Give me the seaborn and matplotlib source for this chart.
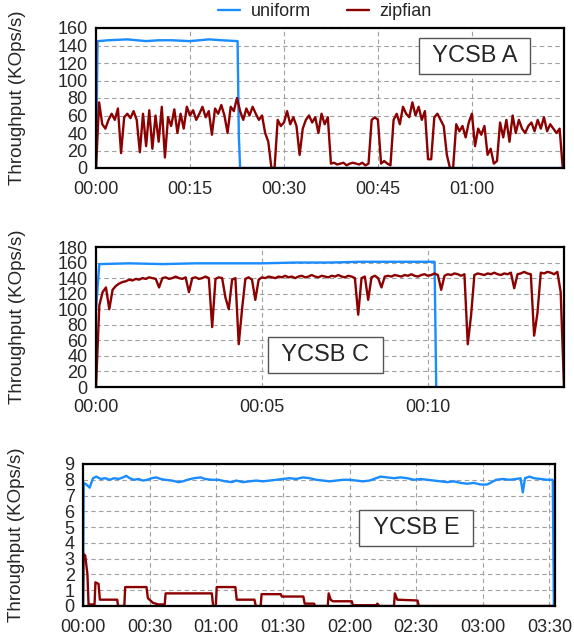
import matplotlib
matplotlib.use("Agg")
import matplotlib.pyplot as plt
import matplotlib.ticker as mticker
import numpy as np
import pandas as pd
import seaborn as sns

# ── Data (minutes, KOps/s) ────────────────────────────────────────────────────
SERIES = ["uniform", "zipfian"]
PALETTE = {"uniform": "#1a8cff", "zipfian": "#8b0000"}

# YCSB A
A_UNIF_T = [0, 0.25, 2, 5, 8, 10, 12, 15, 18, 20, 22.6, 22.8, 23.0, 74.7]
A_UNIF = [0, 145, 146, 147, 145, 146, 146, 145, 147, 146, 145, 37, 0, 0]
A_ZIPF_STEP = 0.5
A_ZIPF = [
    0, 75, 50, 45, 55, 62, 55, 68, 17, 58,
    62, 57, 65, 55, 18, 62, 25, 66, 22, 60,
    30, 70, 12, 58, 48, 67, 40, 62, 45, 70,
    60, 66, 55, 62, 70, 58, 65, 38, 68, 62,
    72, 60, 40, 70, 65, 80, 65, 55, 68, 60,
    70, 62, 55, 60, 40, 30, 0, 0, 55, 48,
    52, 65, 50, 58, 48, 15, 45, 55, 60, 52,
    58, 40, 62, 50, 58, 5, 6, 4, 5, 6,
    3, 5, 6, 5, 4, 6, 3, 5, 55, 58,
    55, 5, 8, 5, 3, 55, 62, 50, 70, 62,
    58, 75, 60, 70, 55, 65, 10, 10, 58, 62,
    55, 48, 15, 0, 0, 50, 42, 48, 35, 52,
    62, 25, 45, 38, 48, 15, 22, 5, 8, 52,
    35, 55, 30, 60, 40, 55, 45, 40, 48, 52,
    42, 55, 45, 58, 42, 50, 45, 40, 45, 0,
]

# YCSB C
C_UNIF_T = [0, 0.1, 1, 2, 3, 4, 5, 6, 7, 8, 9, 10, 10.2, 10.25]
C_UNIF = [100, 158, 159, 158, 159, 159, 159, 160, 160, 161, 161, 161, 161, 0]
C_ZIPF_STEP = 0.1
C_ZIPF = [
    0, 105, 122, 128, 100, 125, 130, 133, 135, 136,
    138, 137, 139, 138, 140, 139, 141, 140, 139, 128,
    140, 141, 139, 140, 142, 140, 139, 141, 122, 140,
    141, 139, 140, 142, 140, 77, 139, 141, 140, 115,
    100, 138, 140, 55, 100, 139, 141, 138, 112, 138,
    141, 140, 142, 141, 140, 142, 141, 143, 141, 142,
    140, 142, 143, 141, 142, 144, 142, 141, 143, 142,
    141, 143, 142, 144, 142, 141, 143, 142, 140, 93,
    140, 142, 112, 141, 143, 140, 128, 142, 143, 142,
    144, 143, 142, 144, 143, 145, 143, 142, 144, 145,
    143, 144, 146, 144, 125, 143, 145, 144, 146, 145,
    143, 145, 55, 92, 144, 146, 145, 144, 146, 145,
    147, 145, 144, 146, 145, 147, 127, 145, 146, 148,
    146, 145, 66, 95, 147, 146, 148, 147, 145, 148,
    122, 0,
]

# YCSB E
E_UNIF_T = [
    0, 0.3, 1.5, 3, 4.5, 6, 8, 10, 12, 14, 16, 18, 19.5, 21, 23, 25, 27, 29,
    31, 33, 35, 37, 40, 43, 45, 47, 50, 53, 55, 58, 61, 64, 67, 69, 72, 75,
    78, 81, 84, 87, 90, 93, 96, 99, 102, 105, 108, 111, 114, 117, 120, 123,
    126, 129, 132, 134, 137, 140, 143, 146, 149, 152, 155, 158, 161, 164,
    167, 170, 173, 176, 179, 182, 184, 186, 189, 192, 195, 197, 198, 199,
    201, 203, 206, 209, 211.5, 212,
]
E_UNIF = [
    0, 7.8, 7.7, 7.5, 8.1, 8.2, 8.05, 8.1, 8.0, 8.1, 8.05, 8.15, 8.25, 8.1,
    8.0, 8.05, 7.95, 8.0, 8.1, 8.15, 8.05, 8.0, 7.95, 7.85, 7.9, 8.0, 8.1,
    8.15, 8.05, 8.0, 8.0, 7.9, 7.85, 7.95, 7.85, 7.9, 7.95, 7.9, 7.95, 8.0,
    8.05, 8.1, 8.05, 8.15, 8.1, 8.0, 7.95, 7.9, 7.95, 8.0, 8.0, 7.95, 7.9,
    7.95, 8.1, 8.2, 8.15, 8.1, 8.15, 8.1, 8.0, 8.05, 8.0, 7.95, 7.9, 7.85,
    7.9, 7.8, 7.75, 7.8, 7.7, 7.7, 7.85, 8.0, 8.05, 8.0, 8.05, 8.1, 7.2,
    8.1, 8.2, 8.1, 8.05, 8.0, 8.0, 0,
]
E_ZIPF_T = [
    0, 0.2, 1, 2, 2.5, 5.2, 5.6, 7, 7.6, 15.4, 15.8, 18.6, 19, 28.6, 29.2,
    31.5, 34, 36.8, 37.2, 58, 58.6, 59.8, 60.2, 68.6, 69.2, 77.2, 77.8, 80,
    80.4, 89, 89.5, 99.2, 99.8, 104, 104.5, 110.2, 110.6, 111.5, 112.5, 121,
    121.5, 132, 132.5, 133.5, 140, 140.4, 141.5, 150.6, 151.2, 212,
]
E_ZIPF = [
    0, 3.3, 3.2, 2.0, 0.1, 0.1, 1.5, 1.4, 0.4, 0.4, 0.0, 0.0, 1.2, 1.2, 0.5,
    0.2, 0.1, 0.1, 0.8, 0.8, 0.0, 0.0, 1.2, 1.2, 0.4, 0.4, 0.0, 0.0,
    0.75, 0.75, 0.6, 0.6, 0.15, 0.15, 0.0, 0.0, 0.8, 0.4, 0.3, 0.3,
    0.05, 0.05, 0.15, 0.0, 0.0, 0.8, 0.4, 0.35, 0.0, 0.0,
]


def _frame(unif_t, unif, zipf_t, zipf):
    return pd.concat([
        pd.DataFrame({"minutes": unif_t, "kops": unif, "series": "uniform"}),
        pd.DataFrame({"minutes": zipf_t, "kops": zipf, "series": "zipfian"}),
    ], ignore_index=True)


panels = [
    dict(df=_frame(A_UNIF_T, A_UNIF, np.arange(len(A_ZIPF)) * A_ZIPF_STEP, A_ZIPF),
         rect=[96 / 574, 1 - 168 / 640, 468 / 574, 140 / 640],
         xlim=74.7, xstep=15, ylim=160, ystep=20,
         label="YCSB A", box=(0.808, 0.80), ylab_x=-0.15),
    dict(df=_frame(C_UNIF_T, C_UNIF, np.arange(len(C_ZIPF)) * C_ZIPF_STEP, C_ZIPF),
         rect=[96 / 574, 1 - 387 / 640, 468 / 574, 140 / 640],
         xlim=14.1, xstep=5, ylim=180, ystep=20,
         label="YCSB C", box=(0.49, 0.23), ylab_x=-0.15),
    dict(df=_frame(E_UNIF_T, E_UNIF, E_ZIPF_T, E_ZIPF),
         rect=[83 / 574, 1 - 606 / 640, 472 / 574, 142 / 640],
         xlim=212.5, xstep=30, ylim=9, ystep=1,
         label="YCSB E", box=(0.706, 0.55), ylab_x=-0.122),
]

# ── Style ────────────────────────────────────────────────────────────────────
sns.set_style("white")
plt.rcParams["font.family"] = ["Liberation Sans", "DejaVu Sans"]
plt.rcParams["font.size"] = 13


def hhmm(v, pos):
    m = int(round(v))
    return f"{m // 60:02d}:{m % 60:02d}"


fig = plt.figure(figsize=(5.74, 6.4), dpi=100)
handles, labels = None, None

for p in panels:
    ax = fig.add_axes(p["rect"])
    sns.lineplot(
        data=p["df"], x="minutes", y="kops", hue="series", hue_order=SERIES,
        palette=PALETTE, estimator=None, sort=False, lw=1.7, ax=ax,
    )
    if handles is None:
        handles, labels = ax.get_legend_handles_labels()
    ax.get_legend().remove()

    ax.set_xlim(0, p["xlim"])
    ax.set_ylim(0, p["ylim"])
    ax.xaxis.set_major_locator(mticker.MultipleLocator(p["xstep"]))
    ax.yaxis.set_major_locator(mticker.MultipleLocator(p["ystep"]))
    ax.xaxis.set_major_formatter(mticker.FuncFormatter(hhmm))
    ax.tick_params(axis="both", length=0, labelsize=13)
    ax.tick_params(axis="y", pad=6)
    ax.tick_params(axis="x", pad=9)
    ax.grid(True, ls=(0, (4, 3)), color="#a0a0a0", lw=0.8)
    for s in ax.spines.values():
        s.set_color("black")
        s.set_linewidth(1.6)

    ax.set_xlabel("")
    ax.set_ylabel("Throughput (KOps/s)", fontsize=13.5)
    ax.yaxis.set_label_coords(p["ylab_x"], 0.5)

    ax.text(p["box"][0], p["box"][1], f" {p['label']} ", transform=ax.transAxes,
            ha="center", va="center", fontsize=17,
            bbox=dict(boxstyle="square,pad=0.3", fc="white", ec="#555555", lw=1))

fig.legend(handles, labels, loc="center", bbox_to_anchor=(325 / 574, 1 - 12 / 640),
           ncol=2, frameon=False, fontsize=13, handlelength=1.2,
           columnspacing=2.0, handletextpad=0.6, borderaxespad=0)

fig.savefig("out.png", dpi=100)
